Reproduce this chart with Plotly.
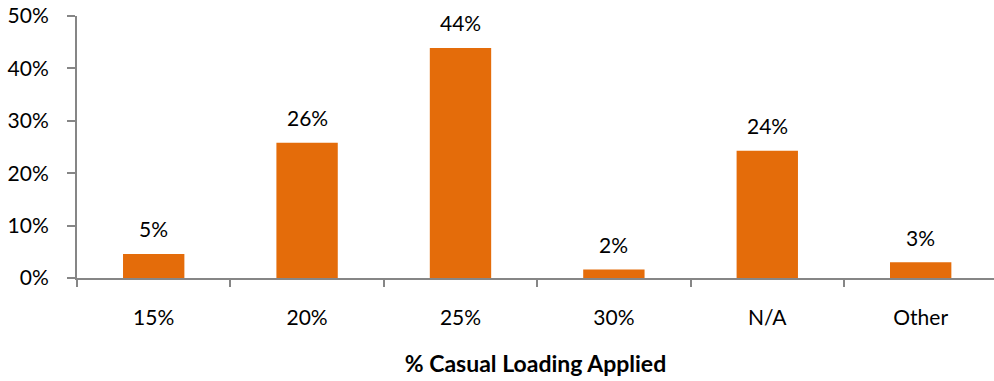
import plotly.graph_objects as go

# Share of respondents by casual loading rate applied
categories = ["15%", "20%", "25%", "30%", "N/A", "Other"]
shares = [4.6, 25.8, 43.9, 1.6, 24.3, 3.0]
y_ticks = [0, 10, 20, 30, 40, 50]
y_tick_labels = [f"{v}%" for v in y_ticks]

BAR_COLOR = "#E46C0A"
AXIS_COLOR = "#868686"
FONT = "Lato, 'Open Sans', sans-serif"

fig = go.Figure(
    go.Bar(
        x=categories,
        y=shares,
        width=0.4,
        marker=dict(color=BAR_COLOR, line=dict(width=0)),
        hoverinfo="skip",
    )
)

# value labels sitting above each bar
for cat, val in zip(categories, shares):
    fig.add_annotation(
        x=cat, y=val, text=f"{round(val):.0f}%",
        showarrow=False, yshift=25,
        font=dict(family=FONT, size=21, color="#000000"),
    )

fig.update_layout(
    width=994, height=381,
    margin=dict(l=77, r=0, t=16, b=103),
    paper_bgcolor="white", plot_bgcolor="white",
    showlegend=False,
    bargap=0.6,
    font=dict(family=FONT, size=21, color="#000000"),
)

fig.update_xaxes(
    range=[-0.5, 5.478],
    showline=True, linecolor=AXIS_COLOR, linewidth=2,
    ticks="outside", tickson="boundaries", ticklen=7, tickwidth=2, tickcolor=AXIS_COLOR,
    ticklabelstandoff=20,
    showgrid=False, zeroline=False,
    title=dict(text="<b>% Casual Loading Applied</b>", standoff=28,
               font=dict(family=FONT, size=23, color="#000000")),
)

fig.update_yaxes(
    range=[0, 50],
    tickvals=y_ticks, ticktext=y_tick_labels,
    showline=True, linecolor=AXIS_COLOR, linewidth=2,
    ticks="outside", ticklen=8, tickwidth=2, tickcolor=AXIS_COLOR,
    ticklabelstandoff=14,
    showgrid=False, zeroline=False,
)

fig.write_html("out.html")
